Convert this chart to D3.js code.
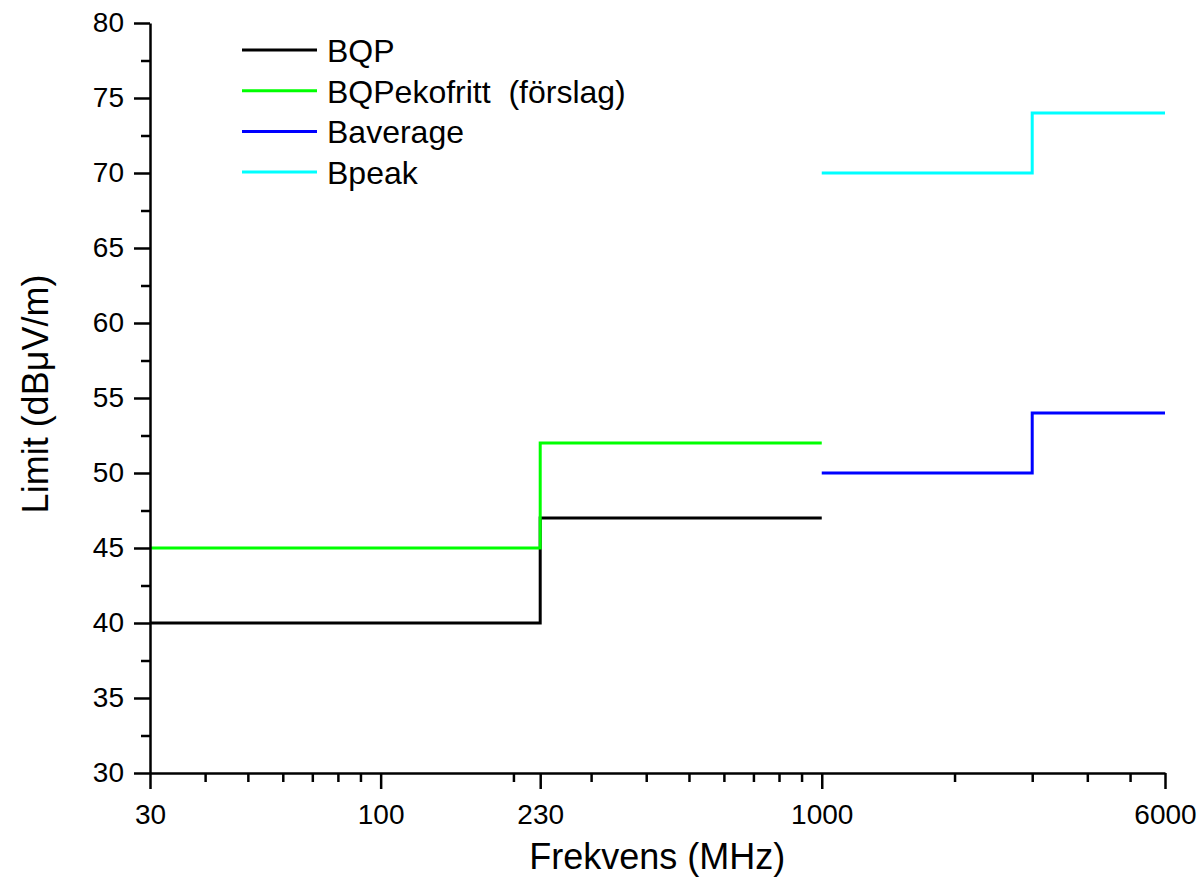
<!DOCTYPE html>
<html>
<head>
<meta charset="utf-8">
<script src="https://cdn.jsdelivr.net/npm/d3@7"></script>
<style>
  body { margin: 0; background: #fff; }
  svg text { font-family: "Liberation Sans", Arial, sans-serif; fill: #000; }
</style>
</head>
<body>
<div id="chart"></div>
<script>
// Step limits (value holds from this frequency to the next)
const bqpFreq = [30, 230, 1000];
const bqpLimit = [40, 47, 47];
const ekoFreq = [30, 230, 1000];
const ekoLimit = [45, 52, 52];
const avgFreq = [1000, 3000, 6000];
const avgLimit = [50, 54, 54];
const peakFreq = [1000, 3000, 6000];
const peakLimit = [70, 74, 74];

const seriesNames = ["BQP", "BQPekofritt  (förslag)", "Baverage", "Bpeak"];
const seriesColors = ["#000000", "#00ff00", "#0000ff", "#00ffff"];

const xMajorTicks = [30, 100, 230, 1000, 6000];
const xMinorTicks = [40, 50, 60, 70, 80, 90, 200, 300, 400, 500, 600, 700, 800, 900, 2000, 3000, 4000, 5000];
const yMajorTicks = [30, 35, 40, 45, 50, 55, 60, 65, 70, 75, 80];
const yMinorTicks = [32.5, 37.5, 42.5, 47.5, 52.5, 57.5, 62.5, 67.5, 72.5, 77.5];

const width = 1204, height = 890;
const margin = { top: 23, right: 39, bottom: 117, left: 150 };
const iw = width - margin.left - margin.right;
const ih = height - margin.top - margin.bottom;

const x = d3.scaleLog().domain([30, 6000]).range([0, iw]);
const y = d3.scaleLinear().domain([30, 80]).range([ih, 0]);

const svg = d3.select("#chart").append("svg")
  .attr("width", width).attr("height", height);

const g = svg.append("g").attr("transform", `translate(${margin.left},${margin.top})`);

const series = [
  { f: bqpFreq, v: bqpLimit },
  { f: ekoFreq, v: ekoLimit },
  { f: avgFreq, v: avgLimit },
  { f: peakFreq, v: peakLimit },
];

const line = d3.line()
  .x((d) => x(d[0]))
  .y((d) => y(d[1]))
  .curve(d3.curveStepAfter);

g.selectAll("path.limit")
  .data(series)
  .join("path")
  .attr("class", "limit")
  .attr("d", (s) => line(s.f.map((f, i) => [f, s.v[i]])))
  .attr("fill", "none")
  .attr("stroke", (s, i) => seriesColors[i])
  .attr("stroke-width", 3);

// axes
function styleAxis(sel) {
  sel.select(".domain").attr("stroke", "#000").attr("stroke-width", 2.5);
  sel.selectAll(".tick line").attr("stroke", "#000").attr("stroke-width", 2.5);
}

const xMinor = g.append("g").attr("transform", `translate(0,${ih})`)
  .call(d3.axisBottom(x).tickValues(xMinorTicks).tickSize(9).tickFormat(""));
xMinor.select(".domain").remove();
xMinor.selectAll(".tick line").attr("stroke", "#000").attr("stroke-width", 2.5);

const xAxis = g.append("g").attr("transform", `translate(0,${ih})`)
  .call(d3.axisBottom(x).tickValues(xMajorTicks).tickSize(16).tickSizeOuter(0)
    .tickFormat(d3.format("d")));
styleAxis(xAxis);
xAxis.selectAll(".tick text").attr("y", 31).attr("dy", "0.71em")
  .style("font-size", "28px");

const yMinor = g.append("g")
  .call(d3.axisLeft(y).tickValues(yMinorTicks).tickSize(9).tickFormat(""));
yMinor.select(".domain").remove();
yMinor.selectAll(".tick line").attr("stroke", "#000").attr("stroke-width", 2.5);

const yAxis = g.append("g")
  .call(d3.axisLeft(y).tickValues(yMajorTicks).tickSize(16).tickSizeOuter(0));
styleAxis(yAxis);
yAxis.selectAll(".tick text").attr("x", -26).style("font-size", "28px");

// axis titles
svg.append("text")
  .attr("x", margin.left + x(230) + 117)
  .attr("y", 869)
  .attr("text-anchor", "middle")
  .style("font-size", "36px")
  .text("Frekvens (MHz)");

svg.append("text")
  .attr("transform", `translate(48,394) rotate(-90)`)
  .attr("text-anchor", "middle")
  .style("font-size", "36px")
  .text("Limit (dBμV/m)");

// legend
const legend = svg.append("g").attr("transform", "translate(242,50)");
seriesNames.forEach((name, i) => {
  const row = legend.append("g").attr("transform", `translate(0,${i * 40.7})`);
  row.append("line")
    .attr("x1", 0).attr("x2", 75)
    .attr("stroke", seriesColors[i]).attr("stroke-width", 3);
  row.append("text")
    .attr("x", 85).attr("y", 12)
    .style("font-size", "32px")
    .style("white-space", "pre")
    .attr("xml:space", "preserve")
    .text(name);
});
</script>
</body>
</html>
